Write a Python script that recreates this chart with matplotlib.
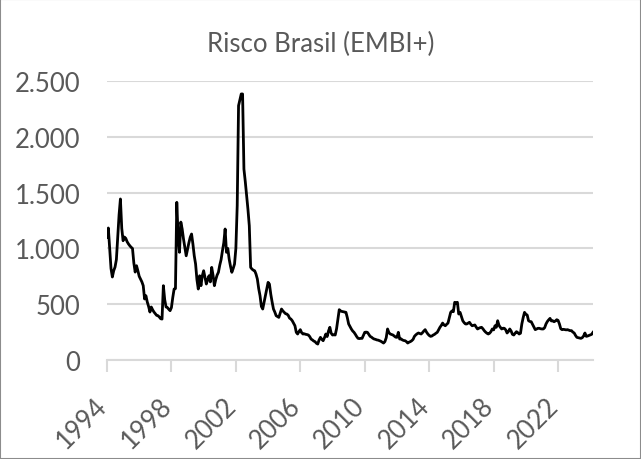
import numpy as np
import matplotlib.pyplot as plt
import matplotlib.transforms as mtransforms
from matplotlib.patches import Rectangle

# monthly EMBI+ Brazil spread (bps), Apr 1994 .. Jun 2024
v1994 = [1100, 1183, 1000, 820, 744, 800, 833, 900, 1100]
v1995 = [1300, 1443, 1180, 1069, 1102, 1090, 1060, 1040, 1024, 1010, 1000, 870]
v1996 = [788, 845, 800, 750, 726, 700, 666, 547, 576, 520, 480, 430]
v1997 = [475, 450, 430, 415, 400, 397, 385, 370, 367, 666, 540, 475]
v1998 = [470, 455, 442, 470, 560, 636, 640, 1413, 1100, 965, 1236, 1174]
v1999 = [1084, 1010, 934, 994, 1050, 1100, 1129, 1040, 934, 860, 720, 636]
v2000 = [755, 666, 755, 800, 740, 681, 720, 755, 700, 830, 760, 666]
v2001 = [720, 760, 786, 850, 900, 979, 1050, 1174, 965, 1000, 905, 840]
v2002 = [786, 820, 860, 1000, 1383, 2279, 2330, 2384, 2384, 1711, 1600, 1472]
v2003 = [1350, 1203, 830, 815, 805, 800, 770, 726, 640, 576, 480, 457]
v2004 = [517, 580, 636, 696, 680, 590, 520, 457, 430, 397, 390, 382]
v2005 = [420, 457, 440, 427, 415, 412, 400, 375, 367, 352, 330, 307]
v2006 = [248, 233, 255, 272, 245, 233, 235, 230, 228, 224, 210, 188]
v2007 = [180, 170, 164, 150, 143, 180, 203, 185, 173, 200, 233, 210]
v2008 = [260, 293, 240, 224, 226, 224, 280, 367, 451, 440, 435, 433]
v2009 = [430, 427, 380, 323, 300, 278, 260, 248, 230, 210, 194, 192]
v2010 = [194, 194, 220, 248, 250, 248, 230, 212, 205, 195, 188, 185]
v2011 = [180, 178, 173, 168, 160, 152, 165, 200, 278, 245, 233, 228]
v2012 = [224, 215, 205, 203, 248, 188, 190, 180, 175, 173, 165, 152]
v2013 = [160, 165, 173, 185, 212, 225, 235, 242, 238, 233, 245, 260]
v2014 = [272, 250, 233, 220, 212, 215, 224, 230, 240, 248, 270, 293]
v2015 = [310, 331, 315, 307, 320, 331, 380, 427, 440, 433, 517, 510]
v2016 = [517, 412, 427, 390, 352, 335, 323, 323, 330, 338, 320, 307]
v2017 = [310, 314, 295, 278, 285, 290, 293, 280, 263, 250, 240, 233]
v2018 = [240, 255, 278, 270, 307, 293, 352, 310, 293, 278, 285, 284]
v2019 = [270, 242, 255, 278, 260, 230, 224, 240, 254, 245, 233, 240]
v2020 = [323, 380, 427, 410, 403, 352, 345, 343, 320, 295, 272, 278]
v2021 = [284, 284, 280, 278, 278, 290, 323, 345, 360, 373, 350, 352]
v2022 = [343, 350, 361, 355, 323, 280, 272, 275, 272, 270, 272, 268]
v2023 = [263, 263, 250, 242, 220, 203, 200, 198, 194, 200, 215, 242]
v2024 = [212, 215, 220, 224, 230, 248]

spread = (v1994 + v1995 + v1996 + v1997 + v1998 + v1999 + v2000 + v2001 + v2002
          + v2003 + v2004 + v2005 + v2006 + v2007 + v2008 + v2009 + v2010 + v2011
          + v2012 + v2013 + v2014 + v2015 + v2016 + v2017 + v2018 + v2019 + v2020
          + v2021 + v2022 + v2023 + v2024)
year_labels = ["1994", "1998", "2002", "2006", "2010", "2014", "2018", "2022"]
yticks = [0, 500, 1000, 1500, 2000, 2500]
ytick_labels = ["0", "500", "1.000", "1.500", "2.000", "2.500"]

months = np.arange(len(spread))
grey = "#595959"
plt.rcParams['font.family'] = ['Lato', 'DejaVu Sans']

fig = plt.figure(figsize=(6.41, 4.60), dpi=100)
ax = fig.add_axes([0.1669, 0.2152, 0.7582, 0.6065])
ax.plot(months, spread, color="black", lw=2.0, solid_joinstyle="round")

ax.set_xlim(0, len(spread) - 1)
ax.set_ylim(0, 2500)
ax.set_yticks(yticks)
ax.set_yticklabels(ytick_labels)
ax.set_xticks(np.arange(0, 48 * len(year_labels), 48))
ax.set_xticklabels(year_labels, rotation=45, ha="right")

ax.grid(axis="y", color="#d9d9d9", lw=1.5)
ax.set_axisbelow(True)
for s in ["top", "right", "left"]:
    ax.spines[s].set_visible(False)
ax.spines["bottom"].set_color("#d9d9d9")
ax.spines["bottom"].set_linewidth(1.5)
ax.tick_params(axis="y", length=0, pad=19, labelsize=18.5, labelcolor=grey)
ax.tick_params(axis="x", length=8.6, width=1.5, color="#d9d9d9", direction="out",
               pad=15, labelsize=18.5, labelcolor=grey)
offset = mtransforms.ScaledTranslation(5 / 100, 0, fig.dpi_scale_trans)
for lab in ax.get_xticklabels():
    lab.set_transform(lab.get_transform() + offset)

fig.text(0.5, 1 - 44 / 460, "Risco Brasil (EMBI+)", ha="center", va="center",
         fontsize=18.5, color=grey)
fig.patches.append(Rectangle((0, 0), 1, 1, transform=fig.transFigure, fill=False,
                             edgecolor="#8c8c8c", lw=1.5))

fig.savefig("out.png", dpi=100)
